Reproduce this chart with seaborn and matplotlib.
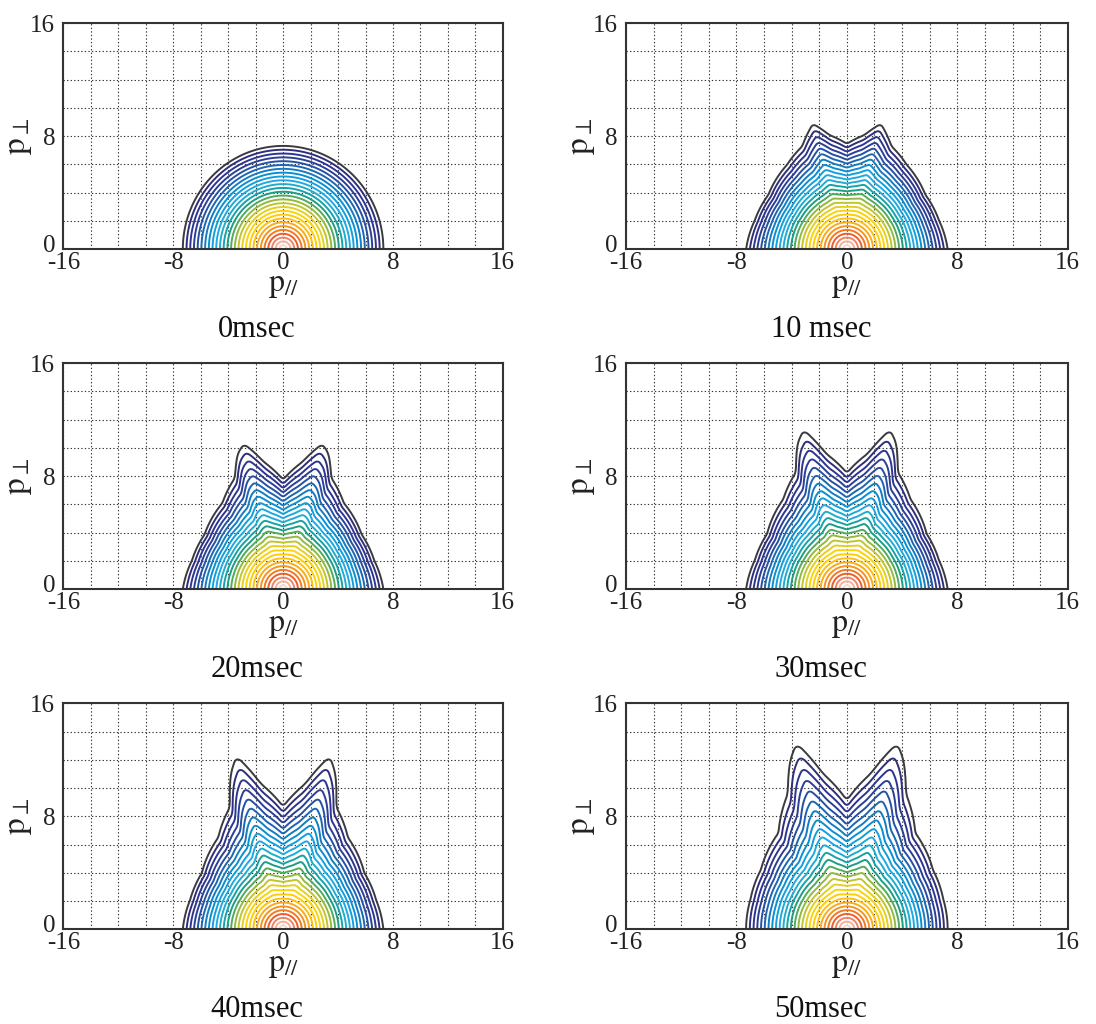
import numpy as np
import matplotlib.pyplot as plt
import matplotlib.transforms as mtransforms
import seaborn as sns

# panel captions (time after start)
CAPTIONS = ["0msec", "10 msec", "20msec", "30msec", "40msec", "50msec"]

# pitch angle (deg, measured from the p_perp axis) where outer contour shape was read
THETA_DEG = [0, 9, 15.5, 19, 24, 36, 56, 73, 90]

# radius of the outermost contour relative to its value on the p_par axis
R_0MS = [1.00, 1.00, 1.00, 1.00, 1.00, 1.00, 1.00, 1.00, 1.00]
R_10MS = [1.02, 1.12, 1.26, 1.19, 1.09, 1.01, 0.94, 0.955, 1.00]
R_20MS = [1.06, 1.25, 1.46, 1.39, 1.18, 1.03, 0.945, 0.95, 1.00]
R_30MS = [1.125, 1.33, 1.60, 1.50, 1.24, 1.075, 0.955, 0.955, 1.00]
R_40MS = [1.19, 1.43, 1.74, 1.60, 1.30, 1.10, 0.977, 0.97, 1.00]
R_50MS = [1.25, 1.53, 1.87, 1.73, 1.44, 1.155, 1.03, 1.00, 1.00]
R_PANELS = [R_0MS, R_10MS, R_20MS, R_30MS, R_40MS, R_50MS]

# contour levels: momentum radius on the p_par axis
OUTER_LEVEL = 7.3
N_LEVELS = 27
CORE_LEVEL = 1.9   # contours inside this stay circular

# contour colours from the centre outwards
LINE_COLORS = ['#f9d8cb', '#f5b09a', '#f08466', '#ed5e2a', '#f17a22', '#f5951f',
               '#f9ac1a', '#fcbf12', '#fdcd08', '#f7d40c', '#e4cf22', '#c0c530',
               '#93ba3e', '#52aa5c', '#1c9e84', '#16a3a8', '#20acd0', '#1fa9e0',
               '#12a0dc', '#0a8fd0', '#137cc2', '#1d66b2', '#2650a3', '#2b3f96',
               '#2e3590', '#2e2f7c', '#3a3a3f']


def smooth_profile(r_outer):
    # resample the read-off shape on a fine angle grid and round off the corners a little
    th = np.arange(-10, 100.01, 0.25)
    r = np.interp(np.abs(np.where(th > 90, 180 - th, th)), THETA_DEG, r_outer)
    k = np.ones(11) / 11
    r = np.convolve(r, k, mode='same')
    keep = (th >= 0) & (th <= 90)
    return th[keep], r[keep]


def contour_field(r_outer):
    x = np.linspace(-16, 16, 801)
    y = np.linspace(0, 16, 401)
    X, Y = np.meshgrid(x, y)
    rho = np.hypot(X, Y)
    theta = np.degrees(np.arctan2(np.abs(X), Y))
    th_f, r_f = smooth_profile(r_outer)
    shape = np.interp(theta, th_f, r_f) - 1.0
    c = rho.copy()
    for _ in range(80):
        w = np.clip((c - CORE_LEVEL) / (OUTER_LEVEL - CORE_LEVEL), 0, 1) ** 1.3
        c = 0.5 * c + 0.5 * rho / (1.0 + w * shape)
    return X, Y, c


def make_figure():
    sns.set_theme(style="white")
    plt.rcParams['font.family'] = ['Liberation Serif', 'DejaVu Serif']
    plt.rcParams['mathtext.fontset'] = 'stix'
    plt.rcParams['axes.unicode_minus'] = False

    fig = plt.figure(figsize=(10.96, 10.24), dpi=100)
    lefts = [0.0578, 0.5712]
    widths = [0.401, 0.403]
    bottoms = [0.7568, 0.4248, 0.0925]
    height = 0.2207
    levels = np.linspace(OUTER_LEVEL / N_LEVELS, OUTER_LEVEL, N_LEVELS)
    lift = mtransforms.ScaledTranslation(0, 6 / 100, fig.dpi_scale_trans)

    for i, (r_outer, caption) in enumerate(zip(R_PANELS, CAPTIONS)):
        row, col = divmod(i, 2)
        l, w, b = lefts[col], widths[col], bottoms[row]
        ax = fig.add_axes([l, b, w, height])

        X, Y, G = contour_field(r_outer)
        ax.contour(X, Y, G, levels=levels, colors=LINE_COLORS, linewidths=1.4)

        ax.set_xlim(-16, 16)
        ax.set_ylim(0, 16)
        ax.set_xticks([-16, -8, 0, 8, 16])
        ax.set_yticks([0, 8, 16])
        ax.set_xticks(np.arange(-16, 17, 2), minor=True)
        ax.set_yticks(np.arange(0, 17, 2), minor=True)
        ax.set_axisbelow(True)
        ax.grid(True, which='both', linestyle=(0, (1.2, 2.0)), color='#333333', linewidth=0.8)
        ax.tick_params(which='both', length=0, labelsize=18, colors='#222222')
        ax.tick_params(axis='x', pad=2)
        ax.tick_params(axis='y', pad=6)
        for sp in ax.spines.values():
            sp.set_color('#333333')
            sp.set_linewidth(1.5)
        ax.set_xlabel(r'$\mathrm{p}_{//}$', fontsize=23, labelpad=-2, color='#222222')
        ax.set_ylabel(r'$\mathrm{p}_{\perp}$', fontsize=24, labelpad=-3, color='#222222')

        # the zero label on the p_perp axis sits a touch above the corner
        zero_lab = ax.get_yticklabels()[0]
        zero_lab.set_transform(zero_lab.get_transform() + lift)

        fig.text(l + w / 2 - 26 / 1096, b - 80 / 1024, caption, ha='center', va='center',
                 fontsize=22, color='#111111')

    fig.savefig('out.png', dpi=100)
    plt.close(fig)


if __name__ == "__main__":
    make_figure()
